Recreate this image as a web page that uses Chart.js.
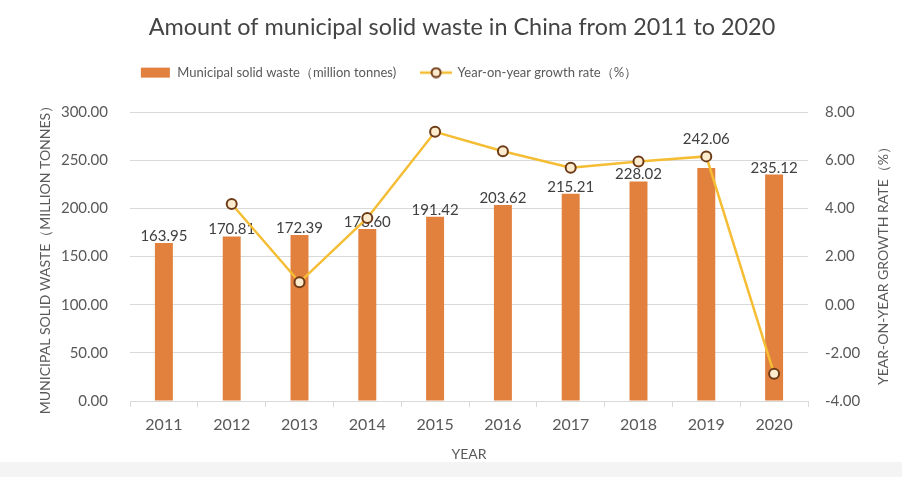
<!DOCTYPE html>
<html lang="en">
<head>
<meta charset="UTF-8">
<title>Municipal solid waste in China, 2011-2020</title>
<script src="https://cdn.jsdelivr.net/npm/chart.js@4"></script>
<style>
  body {
    margin: 0;
    background: linear-gradient(to bottom, #ffffff 0, #ffffff 462px, #f4f4f4 462px);
  }
  #wrap { width: 902px; height: 477px; }
</style>
</head>
<body>
<div id="wrap"><canvas id="wasteChart" width="902" height="477"></canvas></div>
<script>
const years = ['2011', '2012', '2013', '2014', '2015', '2016', '2017', '2018', '2019', '2020'];
const wasteTonnes = [163.95, 170.81, 172.39, 178.60, 191.42, 203.62, 215.21, 228.02, 242.06, 235.12];
const growthRate = [null, 4.18, 0.93, 3.60, 7.18, 6.37, 5.69, 5.95, 6.16, -2.87];

const wasteLabel = 'Municipal solid waste（million tonnes)';
const growthLabel = 'Year-on-year growth rate（%）';
const leftTitle = 'MUNICIPAL SOLID WASTE（MILLION TONNES）';
const rightTitle = 'YEAR-ON-YEAR GROWTH RATE（%）';

const FONT = 'Lato, "Noto Sans", sans-serif';
const TEXT = '#595959';
const GRID = '#d9d9d9';
const BAR = '#e2803e';
const LINE = '#f5bd33';
const DOT_FILL = '#fcebcd';
const DOT_EDGE = '#6e3b17';

Chart.defaults.font.family = FONT;
Chart.defaults.color = TEXT;

// small canvases used as legend markers
function legendIcon(kind) {
    const c = document.createElement('canvas');
    c.width = 32; c.height = 12;
    const g = c.getContext('2d');
    if (kind === 'bar') {
        g.fillStyle = BAR;
        g.fillRect(1, 1, 29, 10);
    } else {
        g.strokeStyle = LINE;
        g.lineWidth = 2.5;
        g.beginPath(); g.moveTo(0, 6); g.lineTo(32, 6); g.stroke();
        g.beginPath(); g.arc(16, 6, 4.5, 0, Math.PI * 2);
        g.fillStyle = DOT_FILL; g.fill();
        g.lineWidth = 2; g.strokeStyle = DOT_EDGE; g.stroke();
    }
    return c;
}
const icons = { bar: legendIcon('bar'), line: legendIcon('line') };

// value labels on top of the bars, drawn before the line so the markers sit over them
const barValueLabels = {
    id: 'barValueLabels',
    afterDatasetDraw(chart, args, opts) {
        if (args.index !== 0) return;
        const ctx = chart.ctx;
        const lift = opts.lift || {};
        ctx.save();
        ctx.font = '15px ' + FONT;
        ctx.fillStyle = '#404040';
        ctx.textAlign = 'center';
        ctx.textBaseline = 'alphabetic';
        args.meta.data.forEach((bar, i) => {
            ctx.fillText(wasteTonnes[i].toFixed(2), bar.x, bar.y - 2 - (lift[years[i]] || 0));
        });
        ctx.restore();
    }
};

// right axis title reads bottom-to-top like the left one
const rightAxisTitle = {
    id: 'rightAxisTitle',
    afterDraw(chart) {
        const ctx = chart.ctx;
        const area = chart.chartArea;
        ctx.save();
        ctx.translate(883, (area.top + area.bottom) / 2 + 6);
        ctx.rotate(-Math.PI / 2);
        ctx.font = '14px ' + FONT;
        ctx.fillStyle = TEXT;
        ctx.textAlign = 'center';
        ctx.textBaseline = 'middle';
        ctx.fillText(rightTitle, 0, 0);
        ctx.restore();
    }
};

// extra room under the legend, and the legend row sits a bit left of centre
const legendTweak = {
    id: 'legendTweak',
    beforeLayout(chart, args, opts) {
        const lg = chart.legend;
        if (!lg || lg._tweaked) return;
        lg._tweaked = true;
        const fit = lg.fit;
        const draw = lg.draw;
        lg.fit = function () { fit.call(this); this.height += opts.extraBottom; };
        lg.draw = function () {
            this.ctx.save();
            this.ctx.translate(opts.shiftX, 0);
            draw.call(this);
            this.ctx.restore();
        };
    }
};

new Chart(document.getElementById('wasteChart'), {
    data: {
        labels: years,
        datasets: [{
            type: 'bar',
            label: wasteLabel,
            data: wasteTonnes,
            backgroundColor: BAR,
            barPercentage: 0.265,
            categoryPercentage: 1,
            yAxisID: 'y',
            order: 2
        }, {
            type: 'line',
            label: growthLabel,
            data: growthRate,
            borderColor: LINE,
            borderWidth: 2.5,
            pointRadius: 5,
            pointBorderWidth: 2,
            pointBackgroundColor: DOT_FILL,
            pointBorderColor: DOT_EDGE,
            tension: 0,
            yAxisID: 'y1',
            order: 1
        }]
    },
    options: {
        responsive: false,
        animation: false,
        layout: { padding: { top: 0, left: 22, right: 0, bottom: 1 } },
        plugins: {
            title: {
                display: true,
                text: 'Amount of municipal solid waste in China from 2011 to 2020',
                color: '#444444',
                font: { size: 23.4, weight: 'normal' },
                padding: { top: 13, bottom: 0 }
            },
            legend: {
                labels: {
                    usePointStyle: true,
                    pointStyleWidth: 30,
                    padding: 25,
                    color: TEXT,
                    font: { size: 13 },
                    sort: (a, b) => a.datasetIndex - b.datasetIndex,
                    generateLabels(chart) {
                        const items = Chart.defaults.plugins.legend.labels.generateLabels(chart);
                        items.forEach(it => {
                            it.pointStyle = it.datasetIndex === 0 ? icons.bar : icons.line;
                        });
                        return items;
                    }
                }
            },
            legendTweak: { extraBottom: 23, shiftX: -73 },
            barValueLabels: { lift: { '2019': 22 } },
            tooltip: { enabled: false }
        },
        scales: {
            x: {
                offset: true,
                grid: { offset: true, drawOnChartArea: false, tickLength: 6, color: GRID },
                border: { color: GRID },
                ticks: { font: { size: 16 }, padding: 8, color: TEXT },
                title: { display: true, text: 'YEAR', font: { size: 14 }, color: TEXT, padding: { top: 4, bottom: 13 } }
            },
            y: {
                position: 'left',
                min: 0,
                max: 300,
                ticks: { stepSize: 50, padding: 22, font: { size: 15 }, color: TEXT, callback: v => v.toFixed(2) },
                grid: { color: GRID, drawTicks: false },
                border: { display: false },
                title: { display: true, text: leftTitle, font: { size: 14 }, color: TEXT, padding: { top: 15 } },
                afterFit(scale) { scale.width = 108; }
            },
            y1: {
                position: 'right',
                min: -4,
                max: 8,
                ticks: { stepSize: 2, padding: 17, font: { size: 15 }, color: TEXT, callback: v => v.toFixed(2) },
                grid: { drawOnChartArea: false, drawTicks: false },
                border: { display: false },
                afterFit(scale) { scale.width = 94; }
            }
        }
    },
    plugins: [legendTweak, barValueLabels, rightAxisTitle]
});
</script>
</body>
</html>
